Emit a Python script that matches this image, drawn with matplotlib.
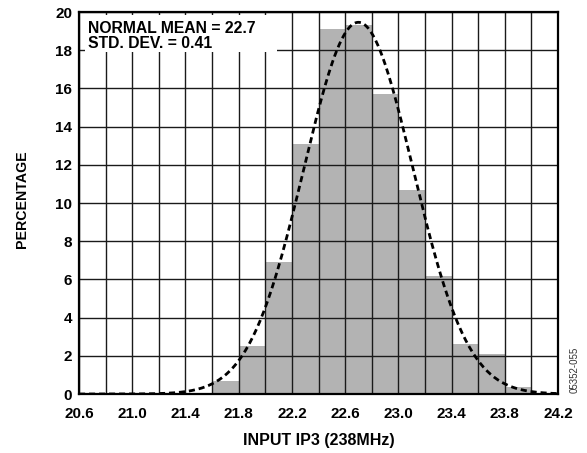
import numpy as np
import matplotlib
matplotlib.use("Agg")
from matplotlib import pyplot as plt

plt.rcParams['font.family'] = ['Liberation Sans', 'DejaVu Sans']
plt.rcParams['font.weight'] = 'bold'

# histogram bins (left edges) and percentages
bin_left = [21.6, 21.8, 22.0, 22.2, 22.4, 22.6, 22.8, 23.0, 23.2, 23.4, 23.6, 23.8]
percent = [0.7, 2.5, 6.9, 13.1, 19.1, 19.3, 15.7, 10.7, 6.2, 2.6, 2.1, 0.35]
bin_width = 0.2

# fitted normal stated on the chart
fit_mean = 22.7
fit_std = 0.41

x_ticks = [20.6, 21.0, 21.4, 21.8, 22.2, 22.6, 23.0, 23.4, 23.8, 24.2]
y_ticks = [0, 2, 4, 6, 8, 10, 12, 14, 16, 18, 20]

fig = plt.figure(figsize=(5.87, 4.53), dpi=100)
ax = fig.add_axes([0.1346, 0.1302, 0.816, 0.8433])

ax.bar(bin_left, percent, width=bin_width, align='edge', color='#b3b3b3',
       edgecolor='none', zorder=1)

xs = np.linspace(20.6, 24.2, 400)
ys = 100 * bin_width * np.exp(-0.5 * ((xs - fit_mean) / fit_std) ** 2) / (fit_std * np.sqrt(2 * np.pi))
ax.plot(xs, ys, color='black', lw=2.0, ls=(0, (2.2, 1.4)), zorder=4)

ax.set_xlim(20.6, 24.2)
ax.set_ylim(0, 20)
ax.set_xticks(np.arange(20.6, 24.21, 0.2), minor=True)
ax.set_xticks(x_ticks)
ax.set_xticklabels([f'{v:.1f}' for v in x_ticks])
ax.set_yticks(y_ticks)
ax.grid(True, which='both', color='#1a1a1a', lw=1.0, zorder=2)
ax.set_axisbelow(False)
ax.tick_params(which='both', length=0, labelsize=11)
ax.tick_params(axis='x', pad=9)
ax.tick_params(axis='y', pad=5)
for s in ax.spines.values():
    s.set_linewidth(1.6)
    s.set_zorder(5)

# white box behind the annotation hides the grid
ax.fill_between([20.645, 22.09], 17.9, 19.82, color='white', zorder=3, lw=0)
ax.text(20.665, 19.55, 'NORMAL MEAN = 22.7\nSTD. DEV. = 0.41', fontsize=11.3,
        fontweight='bold', va='top', ha='left', linespacing=1.0, zorder=6)

ax.set_xlabel('INPUT IP3 (238MHz)', fontsize=11.5, fontweight='bold', labelpad=9)
ax.set_ylabel('PERCENTAGE', fontsize=10.2, fontweight='bold')
ax.yaxis.set_label_coords(-0.105, 0.51)

fig.text(0.979, 0.183, '05352-055', rotation=90, fontsize=7, fontweight='normal',
         ha='center', va='center', color='#333333')

plt.savefig('out.png', dpi=100)
